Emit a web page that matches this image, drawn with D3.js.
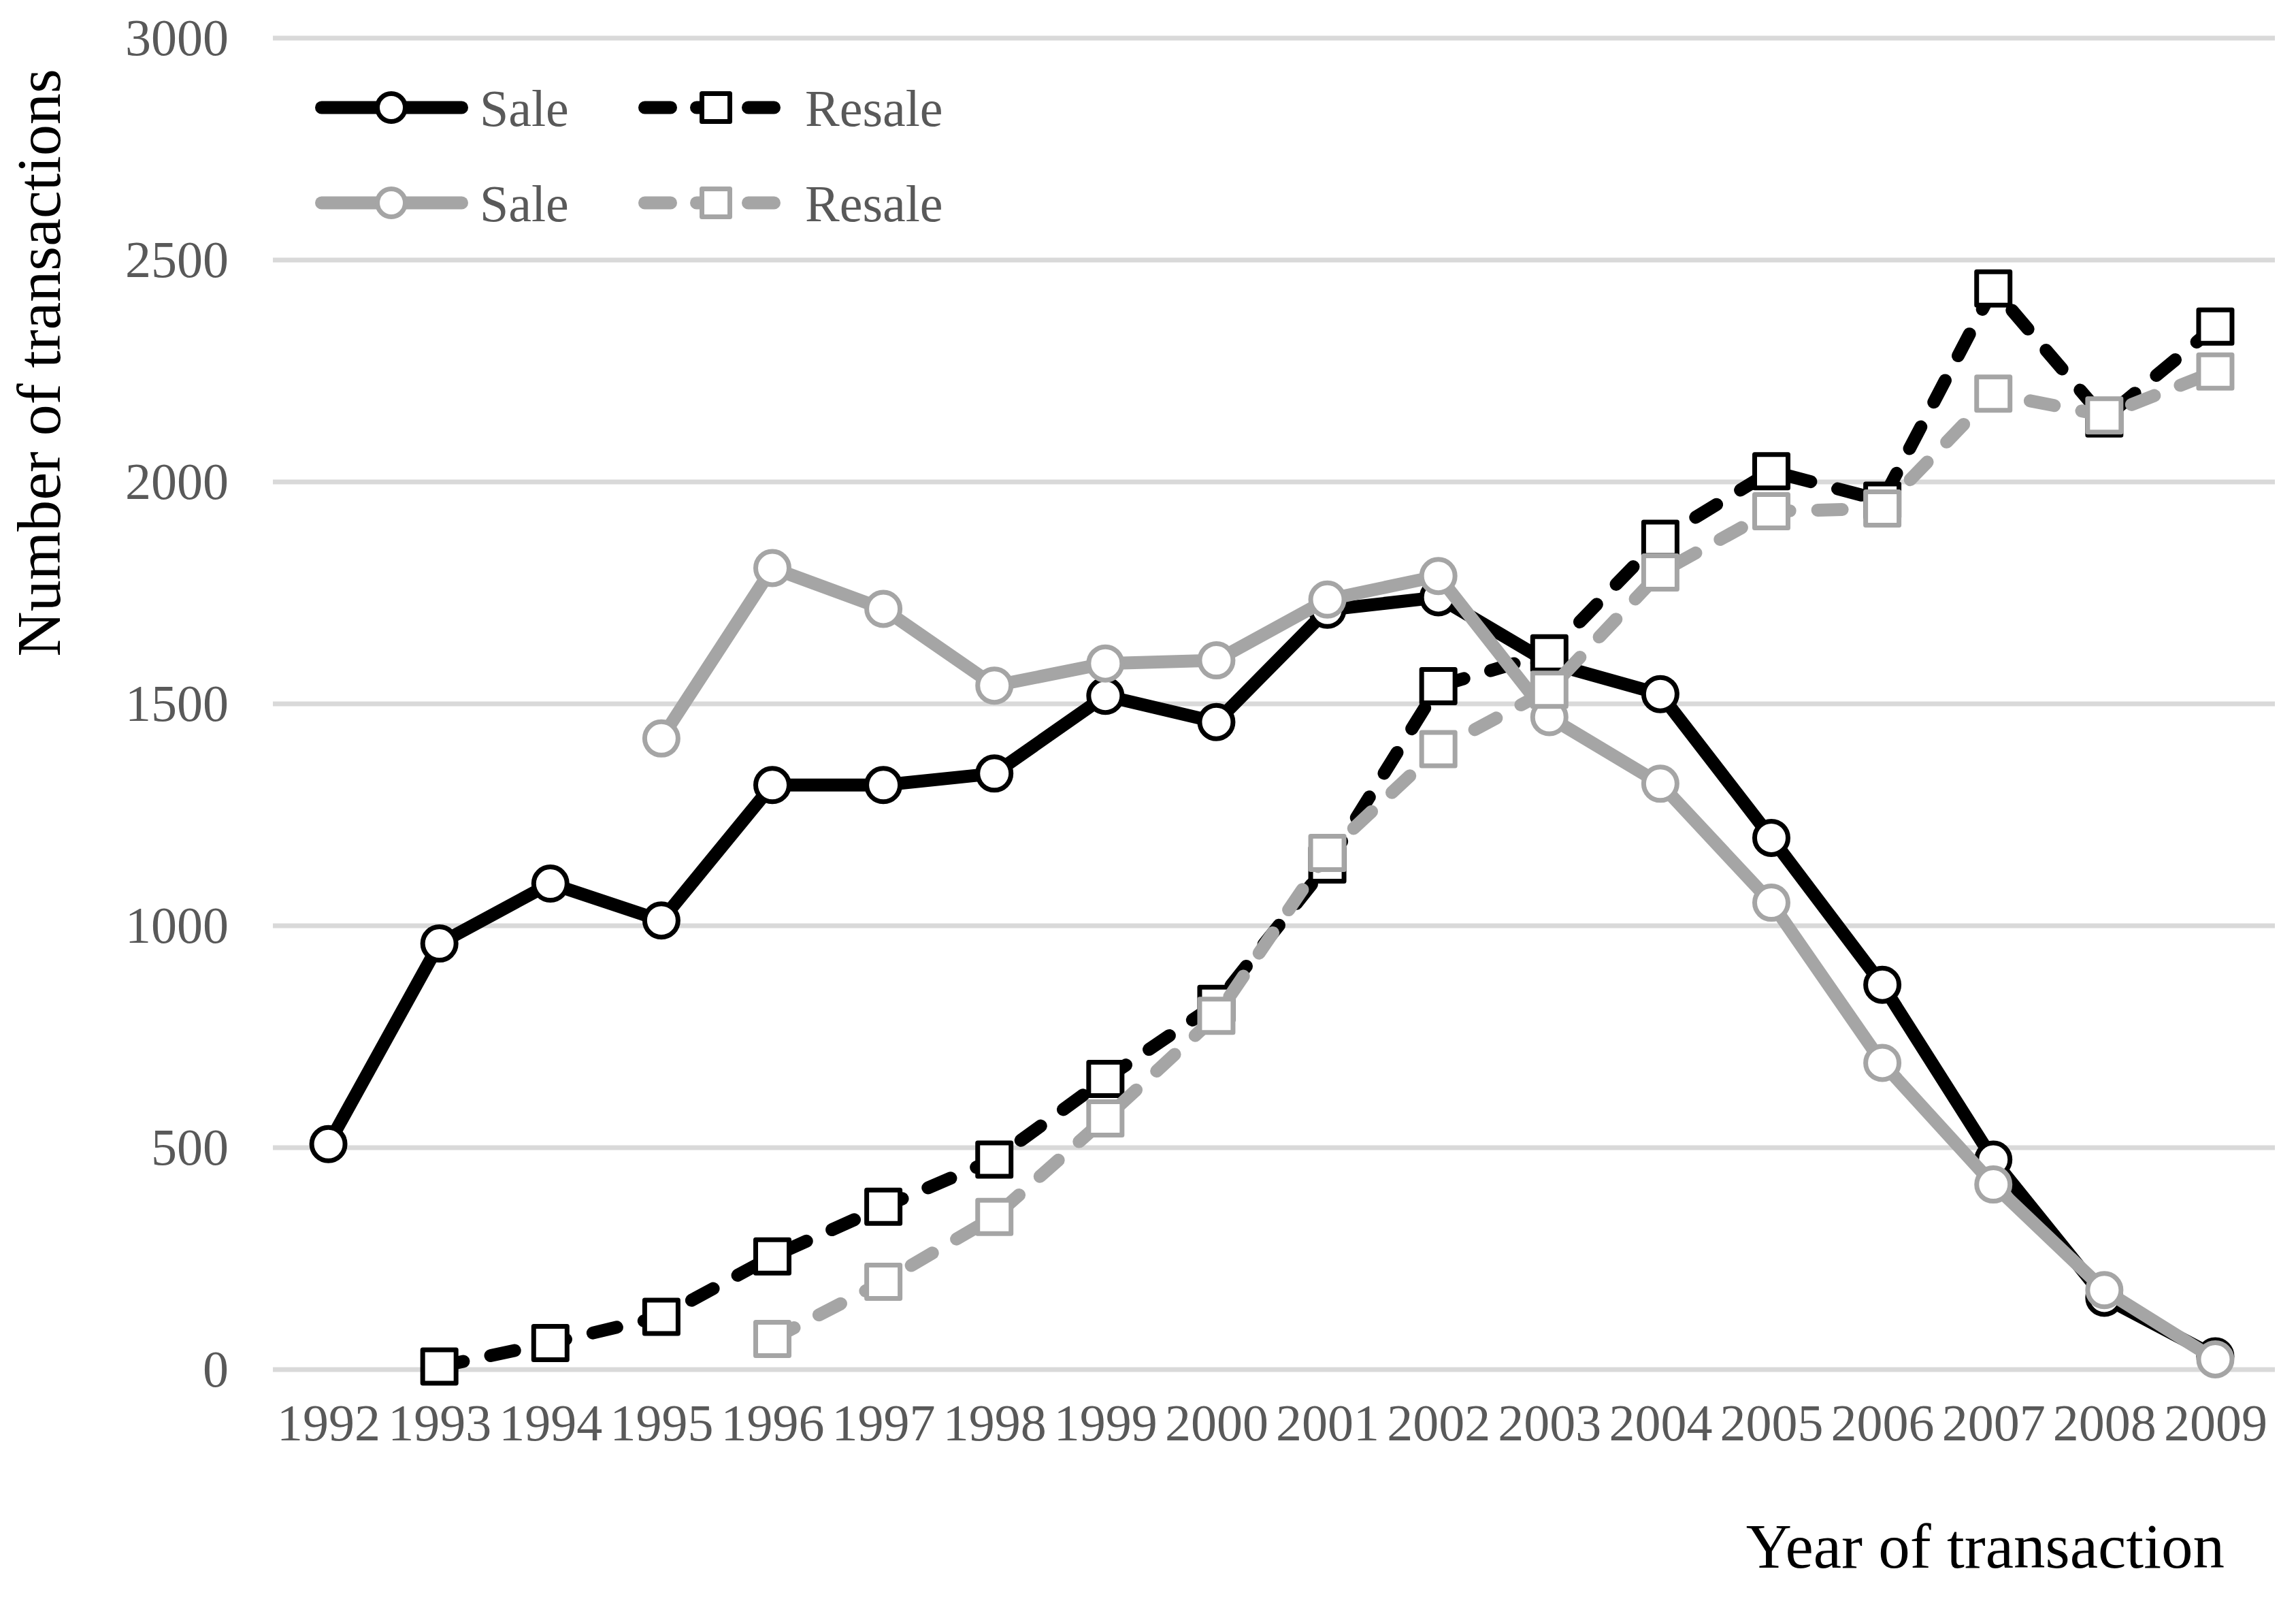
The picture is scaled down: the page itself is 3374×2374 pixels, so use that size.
<!DOCTYPE html>
<html>
<head>
<meta charset="utf-8">
<script src="https://cdn.jsdelivr.net/npm/d3@7"></script>
<style>
  body { margin: 0; background: #fff; }
  text { font-family: "Liberation Serif", "Times New Roman", serif; }
</style>
</head>
<body>
<svg id="chart" width="3374" height="2374"></svg>
<script>
// years on the x axis
const years = d3.range(1992, 2010);
const yTicks = [0, 500, 1000, 1500, 2000, 2500, 3000];

// black series
const saleBlackYears = d3.range(1992, 2010);
const saleBlack = [508, 960, 1095, 1012, 1317, 1317, 1343, 1518, 1459, 1712, 1740, 1592, 1522, 1198, 867, 473, 162, 30];
const resaleBlackYears = d3.range(1993, 2010);
const resaleBlack = [7, 60, 119, 255, 367, 473, 655, 824, 1138, 1540, 1614, 1872, 2024, 1958, 2436, 2143, 2350];

// grey series
const saleGreyYears = d3.range(1995, 2010);
const saleGrey = [1422, 1806, 1714, 1541, 1591, 1598, 1735, 1788, 1470, 1320, 1052, 691, 417, 179, 23];
const resaleGreyYears = d3.range(1996, 2010);
const resaleGrey = [69, 198, 344, 566, 797, 1164, 1398, 1532, 1796, 1934, 1940, 2199, 2150, 2249];

const series = [
  {name: "Sale", yrs: saleBlackYears, vals: saleBlack, color: "#000000", dashed: false, marker: "circle"},
  {name: "Resale", yrs: resaleBlackYears, vals: resaleBlack, color: "#000000", dashed: true, marker: "square"},
  {name: "Sale", yrs: saleGreyYears, vals: saleGrey, color: "#a5a5a5", dashed: false, marker: "circle"},
  {name: "Resale", yrs: resaleGreyYears, vals: resaleGrey, color: "#a5a5a5", dashed: true, marker: "square"}
];

const svg = d3.select("#chart");
const plotLeft = 401, plotRight = 3337, plotTop = 56, plotBottom = 2012;
const lineW = 19;

let x = d3.scalePoint().domain(years).range([plotLeft, plotRight]).padding(0.5);
let y = d3.scaleLinear().domain([0, 3000]).range([plotBottom, plotTop]);

// gridlines
svg.append("g").selectAll("line")
  .data(yTicks).join("line")
  .attr("x1", plotLeft).attr("x2", plotRight + 6)
  .attr("y1", d => y(d)).attr("y2", d => y(d))
  .attr("stroke", "#d9d9d9").attr("stroke-width", 7);

// y axis labels
let yAxis = d3.axisLeft(y).tickValues(yTicks).tickSize(0).tickPadding(0).tickFormat(d3.format("d"));
let gy = svg.append("g").attr("transform", "translate(336,0)").call(yAxis);
gy.select(".domain").remove();
gy.selectAll("text").attr("font-size", 76).attr("fill", "#595959")
  .attr("font-family", "Liberation Serif");

// x axis labels
let xAxis = d3.axisBottom(x).tickSize(0).tickPadding(0);
let gx = svg.append("g").attr("transform", "translate(0,2062)").call(xAxis);
gx.select(".domain").remove();
gx.selectAll("text").attr("font-size", 76).attr("fill", "#595959")
  .attr("font-family", "Liberation Serif");

// axis titles
svg.append("text")
  .attr("transform", "translate(88,533) rotate(-90)")
  .attr("text-anchor", "middle")
  .attr("font-size", 92)
  .attr("fill", "#000")
  .text("Number of transactions");

svg.append("text")
  .attr("x", 3269).attr("y", 2303)
  .attr("text-anchor", "end")
  .attr("font-size", 93)
  .attr("fill", "#000")
  .text("Year of transaction");

let line = d3.line().x(d => x(d[0])).y(d => y(d[1]));

function drawMarker(g, type, cx, cy, color, size) {
  // size = outer width of the marker
  let sw = 7;
  if (type == "circle") {
    g.append("circle").attr("cx", cx).attr("cy", cy).attr("r", (size - sw) / 2)
      .attr("fill", "#fff").attr("stroke", color).attr("stroke-width", sw);
  } else {
    let side = size - sw;
    g.append("rect").attr("x", cx - side / 2).attr("y", cy - side / 2)
      .attr("width", side).attr("height", side)
      .attr("fill", "#fff").attr("stroke", color).attr("stroke-width", sw)
      .attr("stroke-linejoin", "round");
  }
}

series.forEach(s => {
  let pts = s.yrs.map((yr, i) => [yr, s.vals[i]]);
  let g = svg.append("g");
  g.append("path")
    .attr("d", line(pts))
    .attr("fill", "none")
    .attr("stroke", s.color)
    .attr("stroke-width", lineW)
    .attr("stroke-linejoin", "round")
    .attr("stroke-linecap", "round")
    .attr("stroke-dasharray", s.dashed ? "36,41" : null);
  pts.forEach(p => drawMarker(g, s.marker, x(p[0]), y(p[1]), s.color, 56));
});

// legend
const legendPos = [[463, 158], [938, 158], [463, 298], [938, 298]];
series.forEach((s, i) => {
  let [lx, ly] = legendPos[i];
  let g = svg.append("g");
  let len = s.dashed ? 209 : 225;
  g.append("line")
    .attr("x1", lx + lineW / 2).attr("x2", lx + len - lineW / 2)
    .attr("y1", ly).attr("y2", ly)
    .attr("stroke", s.color).attr("stroke-width", lineW)
    .attr("stroke-linecap", "round")
    .attr("stroke-dasharray", s.dashed ? "38,38" : null);
  drawMarker(g, s.marker, lx + (s.dashed ? 114 : 112), ly, s.color, 48);
  g.append("text")
    .attr("x", s.dashed ? 1183 : 705).attr("y", ly)
    .attr("dy", "0.35em")
    .attr("font-size", 76).attr("fill", "#595959")
    .text(s.name);
});
</script>
</body>
</html>
